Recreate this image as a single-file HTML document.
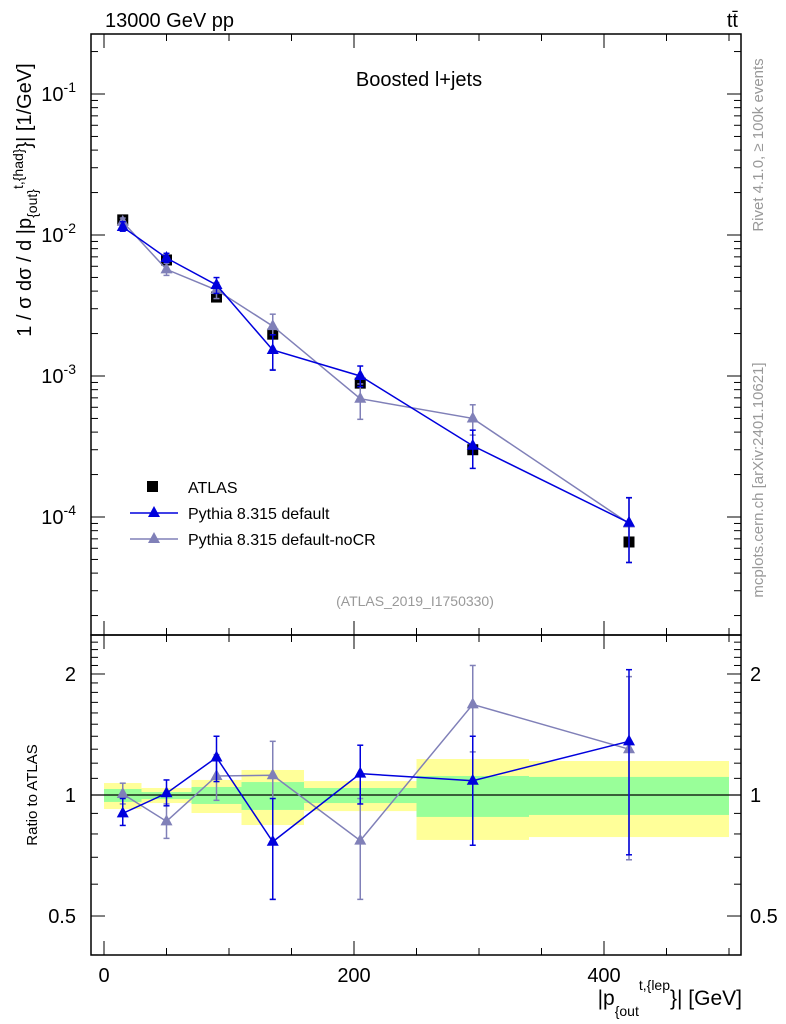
<!DOCTYPE html>
<html><head><meta charset="utf-8">
<style>
html,body{margin:0;padding:0;background:#fff;}
svg{display:block;font-family:"Liberation Sans",sans-serif;}
</style></head>
<body>
<svg id="chart" width="786" height="1024" viewBox="0 0 786 1024" xmlns="http://www.w3.org/2000/svg">
<g id="bands"></g>
<g id="grid"></g>
<g id="marks"></g>
<text x="105" y="27" font-size="20">13000 GeV pp</text>
<text x="738" y="27" font-size="20" text-anchor="end">tt̄</text>
<text x="419" y="86" font-size="20" text-anchor="middle">Boosted l+jets</text>
<text x="415" y="606" font-size="14" fill="#999" text-anchor="middle">(ATLAS_2019_I1750330)</text>
<text transform="translate(763,145) rotate(-90)" font-size="15" fill="#999" text-anchor="middle">Rivet 4.1.0, ≥ 100k events</text>
<text transform="translate(763,480) rotate(-90)" font-size="15" fill="#999" text-anchor="middle">mcplots.cern.ch [arXiv:2401.10621]</text>
<text transform="translate(31,200) rotate(-90)" font-size="20" text-anchor="middle">1 / σ dσ / d |p<tspan font-size="14" dy="6">{out}</tspan><tspan font-size="14" dy="-14">t,{had}</tspan><tspan dy="8">}| [1/GeV]</tspan></text>
<text transform="translate(37,795) rotate(-90)" font-size="15" text-anchor="middle">Ratio to ATLAS</text>
<text x="742" y="1005" font-size="21" text-anchor="end">|p<tspan font-size="14" dy="11">{out</tspan><tspan font-size="14" dy="-26">t,{lep</tspan><tspan dy="15">}| [GeV]</tspan></text>
<g id="legend">
<rect x="147" y="481" width="11" height="11" fill="#000"/>
<text x="188" y="493" font-size="16">ATLAS</text>
<line x1="130" y1="513" x2="178" y2="513" stroke="#0000dd" stroke-width="1.5"/>
<polygon points="154,506 160,517 148,517" fill="#0000dd"/>
<text x="188" y="519" font-size="16">Pythia 8.315 default</text>
<line x1="130" y1="539" x2="178" y2="539" stroke="#8080b8" stroke-width="1.5"/>
<polygon points="154,532 160,543 148,543" fill="#8080b8"/>
<text x="188" y="545" font-size="16">Pythia 8.315 default-noCR</text>
</g>
</svg>
<script>
const xCenters=[15,50,90,135,205,295,420];
const binEdges=[0,30,70,110,160,250,340,500];
const atlas=[0.0128,0.00665,0.00363,0.00198,0.00089,0.00030,0.0000665];
const pyDefault=[0.0114,0.00687,0.00442,0.00153,0.00100,0.00032,0.000091];
const pyNoCR=[0.0124,0.0057,0.00407,0.00226,0.00069,0.00050,0.00009];
const ratioDefault=[0.90,1.01,1.24,0.765,1.13,1.085,1.36];
const ratioDefaultLo=[0.84,0.94,1.08,0.55,0.95,0.75,0.71];
const ratioDefaultHi=[0.98,1.09,1.40,0.98,1.33,1.40,2.05];
const ratioNoCR=[1.006,0.86,1.115,1.12,0.77,1.68,1.30];
const ratioNoCRLo=[0.95,0.78,0.97,0.55,0.55,1.28,0.69];
const ratioNoCRHi=[1.07,0.95,1.26,1.36,0.98,2.10,1.97];
const yellowLo=[0.923,0.955,0.902,0.842,0.912,0.773,0.786];
const yellowHi=[1.071,1.041,1.09,1.154,1.083,1.229,1.215];
const greenLo=[0.961,0.977,0.95,0.918,0.955,0.882,0.892];
const greenHi=[1.035,1.017,1.047,1.077,1.041,1.115,1.109];
const xTicks=[0,200,400];
const mainYTicks=[-4,-3,-2,-1];
const ratioTicks=[0.5,1,2];

const NS="http://www.w3.org/2000/svg";
const L=91,R=741,T=34,MB=635,B=955;
const X=v=>104+v*1.25;
const Y=v=>235-141*(Math.log10(v)+2);
const RY=v=>795-402*Math.log10(v);
function mk(tag,attrs,parent){const e=document.createElementNS(NS,tag);for(const k in attrs)e.setAttribute(k,attrs[k]);parent.appendChild(e);return e;}
const grid=document.getElementById('grid'),marks=document.getElementById('marks'),bands=document.getElementById('bands');

// bands
for(let i=0;i<xCenters.length;i++){
  const x0=X(binEdges[i]),x1=X(binEdges[i+1]);
  const yb=mk('rect',{x:x0,y:RY(yellowHi[i]),width:x1-x0,height:RY(yellowLo[i])-RY(yellowHi[i]),fill:'#ffff99'},bands);
  
  
  const gb=mk('rect',{x:x0,y:RY(greenHi[i]),width:x1-x0,height:RY(greenLo[i])-RY(greenHi[i]),fill:'#99ff99'},bands);
  
  
}
// frames
const f1=mk('rect',{x:L,y:T,width:R-L,height:MB-T,fill:'none',stroke:'#000','stroke-width':1.5},grid);


const f2=mk('rect',{x:L,y:MB,width:R-L,height:B-MB,fill:'none',stroke:'#000','stroke-width':1.5},grid);


const ref=mk('line',{x1:L,x2:R,y1:RY(1),y2:RY(1),stroke:'#000','stroke-width':1.2},grid);


function tick(x1,y1,x2,y2){mk('line',{x1,y1,x2,y2,stroke:'#000','stroke-width':1},grid);}
// x ticks
for(let v=0;v<=500;v+=50){const x=X(v);const len=(v%200===0)?14:7;
  tick(x,T,x,T+len);tick(x,MB,x,MB-len);tick(x,MB,x,MB+len);tick(x,B,x,B-len);}
xTicks.forEach(v=>{const t=mk('text',{x:X(v),y:982,'font-size':20,'text-anchor':'middle'},grid);t.textContent=v;
  
  });
// main y ticks
for(let d=-5;d<=-1;d++){for(let m=1;m<10;m++){const v=m*Math.pow(10,d);const y=Y(v);if(y<T||y>MB)continue;
  const len=m===1?14:7;tick(L,y,L+len,y);tick(R,y,R-len,y);}}
mainYTicks.forEach(d=>{const y=Y(Math.pow(10,d));const t=mk('text',{x:76,y:y+7,'font-size':20,'text-anchor':'end'},grid);
  t.innerHTML='10<tspan font-size="14" dy="-9">'+d+'</tspan>';
  
  });
// ratio ticks
const rminor=[0.4,0.5,0.6,0.7,0.8,0.9,1,1.1,1.2,1.3,1.4,1.5,1.6,1.7,1.8,1.9,2,2.1,2.2,2.3,2.4];
rminor.forEach(v=>{const y=RY(v);if(y<MB||y>B)return;const len=ratioTicks.includes(v)?14:7;tick(L,y,L+len,y);tick(R,y,R-len,y);});
ratioTicks.forEach(v=>{const y=RY(v);
  const t=mk('text',{x:76,y:y+7,'font-size':20,'text-anchor':'end'},grid);t.textContent=v;
  
  
  const t2=mk('text',{x:750,y:y+7,'font-size':20},grid);t2.textContent=v;
  
  });

function clampY(y,lo,hi){return Math.max(lo,Math.min(hi,y));}
function series(vals,rv,rlo,rhi,color,name){
  const g=mk('g',{},marks);
  
  
  mk('polyline',{points:xCenters.map((x,i)=>X(x)+','+Y(vals[i])).join(' '),fill:'none',stroke:color,'stroke-width':1.5},g);
  mk('polyline',{points:xCenters.map((x,i)=>X(x)+','+RY(rv[i])).join(' '),fill:'none',stroke:color,'stroke-width':1.5},g);
  xCenters.forEach((xv,i)=>{const x=X(xv);
    const hi=vals[i]*rhi[i]/rv[i],lo=vals[i]*rlo[i]/rv[i];
    [[Y(hi),Y(lo),T,MB],[RY(rhi[i]),RY(rlo[i]),MB,B]].forEach(([a,b,t0,b0])=>{
      const ya=clampY(a,t0,b0),yb=clampY(b,t0,b0);
      mk('line',{x1:x,x2:x,y1:ya,y2:yb,stroke:color,'stroke-width':1.5},g);
      if(a>t0)mk('line',{x1:x-3,x2:x+3,y1:ya,y2:ya,stroke:color,'stroke-width':1.5},g);
      if(b<b0)mk('line',{x1:x-3,x2:x+3,y1:yb,y2:yb,stroke:color,'stroke-width':1.5},g);
    });
    [Y(vals[i]),RY(rv[i])].forEach(y=>{
      const p=mk('polygon',{points:`${x},${y-7} ${x+6},${y+4} ${x-6},${y+4}`,fill:color},g);
      
      
    });
  });
}
// atlas
const ga=mk('g',{},marks);


atlas.forEach((v,i)=>{const r=mk('rect',{x:X(xCenters[i])-5.5,y:Y(v)-5.5,width:11,height:11,fill:'#000'},ga);
  
  });
series(pyNoCR,ratioNoCR,ratioNoCRLo,ratioNoCRHi,'#8080b8','pythia-nocr');
series(pyDefault,ratioDefault,ratioDefaultLo,ratioDefaultHi,'#0000dd','pythia-default');
</script>
</body></html>
